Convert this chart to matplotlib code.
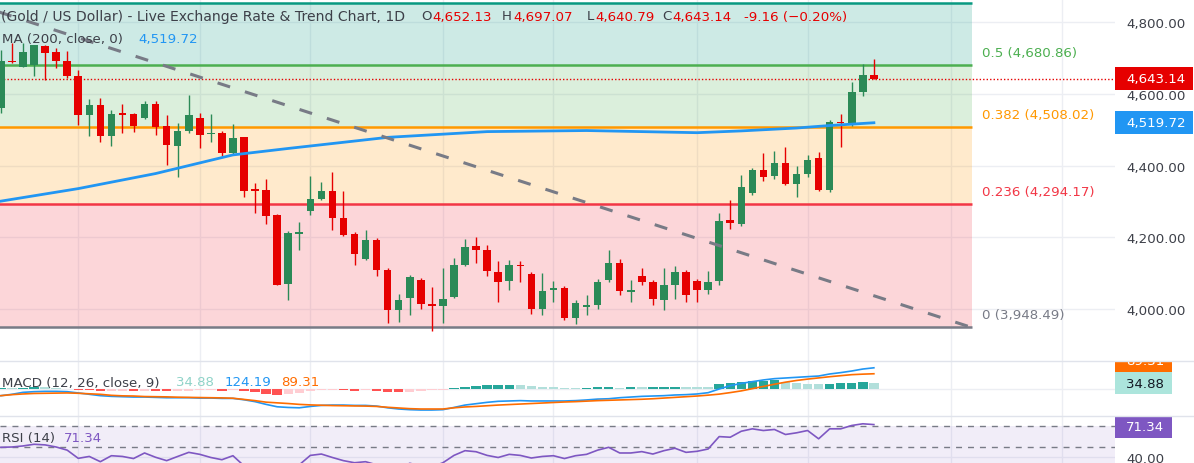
import numpy as np
import matplotlib
matplotlib.use("Agg")
import matplotlib.pyplot as plt
from matplotlib.patches import Rectangle
from matplotlib.lines import Line2D
from matplotlib.ticker import FuncFormatter

W, H = 1194, 464

# daily candles (XAU/USD), oldest -> newest
opens = [4560, 4693, 4676, 4680, 4735, 4717, 4693, 4651, 4541, 4568,
         4483, 4546, 4543, 4532, 4571, 4512, 4455, 4497, 4534, 4487,
         4490, 4434, 4479, 4333, 4333, 4262, 4070, 4208, 4273, 4308,
         4330, 4255, 4209, 4140, 4193, 4110, 3998, 4030, 4082, 4012,
         4008, 4033, 4123, 4175, 4165, 4103, 4077, 4124, 4098, 4000,
         4053, 4058, 3975, 4005, 4010, 4080, 4128, 4048, 4091, 4075,
         4026, 4066, 4103, 4078, 4052, 4077, 4249, 4238, 4325, 4389,
         4371, 4408, 4348, 4378, 4420, 4331, 4523, 4515, 4605, 4652.13]
highs = [4723, 4742, 4742, 4738, 4737, 4728, 4721, 4667, 4585, 4590,
         4554, 4571, 4547, 4581, 4581, 4540, 4518, 4596, 4546, 4543,
         4497, 4515, 4481, 4353, 4364, 4264, 4219, 4244, 4370, 4355,
         4383, 4330, 4215, 4221, 4199, 4114, 4041, 4094, 4086, 4061,
         4114, 4143, 4194, 4201, 4178, 4134, 4137, 4134, 4103, 4101,
         4079, 4064, 4024, 4039, 4084, 4165, 4140, 4080, 4114, 4081,
         4114, 4120, 4109, 4084, 4106, 4268, 4305, 4373, 4394, 4436,
         4442, 4451, 4399, 4429, 4437, 4527, 4543, 4633, 4683, 4697.07]
lows = [4546, 4686, 4674, 4651, 4639, 4672, 4644, 4513, 4483, 4467,
        4455, 4492, 4494, 4530, 4485, 4401, 4369, 4492, 4450, 4465,
        4428, 4429, 4313, 4269, 4238, 4066, 4024, 4166, 4261, 4305,
        4220, 4204, 4122, 4136, 4091, 3960, 3963, 3982, 4000, 3940,
        3960, 4030, 4121, 4129, 4092, 4021, 4054, 4075, 3986, 3984,
        4019, 3968, 3958, 3982, 4000, 4075, 4039, 4021, 4066, 4011,
        3996, 4028, 4021, 4019, 4042, 4066, 4224, 4231, 4317, 4358,
        4364, 4346, 4313, 4367, 4330, 4327, 4451, 4511, 4595, 4640.79]
closes = [4693, 4688, 4717, 4737, 4715, 4691, 4651, 4541, 4568, 4483,
          4543, 4542, 4511, 4571, 4507, 4457, 4497, 4540, 4485, 4490,
          4434, 4476, 4329, 4330, 4260, 4068, 4212, 4216, 4308, 4330,
          4255, 4207, 4154, 4192, 4110, 3998, 4025, 4089, 4014, 4008,
          4028, 4122, 4173, 4164, 4105, 4075, 4122, 4119, 4000, 4050,
          4058, 3975, 4017, 4010, 4075, 4128, 4049, 4050, 4075, 4028,
          4066, 4103, 4040, 4054, 4075, 4246, 4241, 4341, 4389, 4369,
          4408, 4348, 4378, 4417, 4331, 4523, 4518, 4605, 4653, 4643.14]

# MA(200) read at a few candles
ma_k = [0, 7, 14, 21, 26, 35, 44, 53, 58, 63, 67, 72, 75, 79]
ma_v = [4301, 4336, 4378, 4430, 4448, 4479, 4495, 4498, 4495, 4492, 4497, 4505, 4512, 4519.72]

# fib retracement levels and the trend line drawn on the chart
fib_ratios = ["0", "0.236", "0.382", "0.5", "0.618"]
fib_levels = [3948.49, 4294.17, 4508.02, 4680.86, 4853.66]
trend_k = [-1.0, 87.86]
trend_p = [4837, 3948.49]

macd = [-39, -31, -19.5, -15.6, -13.7, -13.7, -15.6, -23, -31, -39,
        -43, -45, -47, -47, -49, -51, -51, -51, -53, -53,
        -55, -55, -63, -74, -90, -104, -108, -110, -102, -96,
        -94, -94, -96, -96, -100, -110, -117, -121, -123, -123,
        -121, -108, -94, -86, -78, -72, -70, -68, -70, -70,
        -70, -70, -68, -64, -59, -57, -51, -47, -43, -41,
        -39, -35, -33, -29, -21.5, 0, 19.5, 33, 43, 53,
        60.6, 64.5, 68.4, 72.3, 76, 88, 96, 105.5, 117, 124.19]
signal = [-39, -33, -29, -26, -25, -24, -23, -25, -28, -31,
          -37, -40, -41, -44, -45, -46, -48, -49, -50, -51,
          -52, -54, -61, -68, -77, -81, -85, -90, -93, -95,
          -97, -98, -99, -100, -102, -107, -111, -115, -117, -117,
          -117, -110, -105, -102, -98, -94, -91, -88, -85, -82,
          -79, -76, -74, -71, -68, -66, -64, -62, -60, -57,
          -53, -49, -45, -41, -36, -30, -21, -11, 2, 15,
          28, 40, 50, 58, 65, 72, 78, 84, 87, 89.31]
hist = [6, 4, 8, 10, 9, 5, 1, -3, -8, -12,
        -10, -9, -12, -10, -12, -14, -11, -9, -7, -6,
        -9, -8, -14, -20, -28, -36, -30, -22, -14, -8,
        -4, -6, -10, -8, -12, -18, -20, -16, -12, -8,
        -4, 6, 14, 20, 22, 24, 25, 22, 18, 14,
        10, 6, 4, 6, 9, 10, 8, 11, 9, 10,
        12, 14, 12, 11, 10, 28, 38, 43, 45, 48,
        50, 42, 35, 30, 27, 31, 34, 37, 39, 34.88]
rsi = [49.7, 50, 51, 52.6, 52, 50, 47, 39.2, 41, 36,
       41.7, 41, 39, 44.3, 40.2, 37, 41, 44.9, 43, 40,
       37.9, 41.7, 32, 31, 28, 21, 31, 33, 42, 43.3,
       40, 37, 35, 36, 33, 27, 29, 34.5, 32, 31,
       35, 42, 46.5, 45.5, 42, 40, 43, 42, 39.5, 41,
       41.7, 39, 41.7, 43, 47, 49.7, 44.3, 44.3, 45.6, 43.3,
       46.5, 48.8, 44.9, 45.9, 48.1, 59.9, 59.3, 65, 67.3, 65.7,
       66.7, 61.9, 63.5, 65.7, 57.8, 67.3, 67.3, 70.5, 72.1, 71.34]

grid_k = [7, 18, 28, 40, 50, 63, 73, 86, 96]
price_ticks = [4000, 4200, 4400, 4600, 4800]

GREEN = "#2b8a57"
RED = "#e60000"
TXT = "#3d4049"
GRID = "#eceef3"
FS = 9.6

plt.rcParams["font.family"] = "DejaVu Sans"
fig = plt.figure(figsize=(W / 100, H / 100), dpi=100)


def fbox(x0, y0, x1, y1):
    # pixel box, top-left origin -> figure fraction
    return [x0 / W, 1 - y1 / H, (x1 - x0) / W, (y1 - y0) / H]


PR = 1115
XL = (-0.081, 100.82)
ax = fig.add_axes(fbox(0, 0, PR, 362))
ax_m = fig.add_axes(fbox(0, 362, PR, 417))
ax_r = fig.add_axes(fbox(0, 417, PR, 464))

for a in (ax, ax_m, ax_r):
    a.set_xlim(*XL)
    a.set_xticks(grid_k)
    a.tick_params(axis="x", length=0, labelbottom=False)
    a.yaxis.tick_right()
    a.tick_params(axis="y", length=0, pad=8, labelsize=FS, labelcolor=TXT)
    a.grid(True, color=GRID, lw=1)
    a.set_axisbelow(True)
    for s in a.spines.values():
        s.set_visible(False)

# ---- main pane ----
ax.set_ylim(3855, 4865)
ax.set_yticks(price_ticks)
ax.yaxis.set_major_formatter(FuncFormatter(lambda v, _: f"{v:,.2f}"))

fib_cols = ["#787b86", "#f23645", "#ff9800", "#4caf50", "#089981"]
fx = [-10, trend_k[1]]
for i in range(len(fib_levels) - 1):
    ax.fill_between(fx, fib_levels[i], fib_levels[i + 1], color=fib_cols[i + 1], alpha=0.2, lw=0, zorder=1)
for r, lv, c in zip(fib_ratios, fib_levels, fib_cols):
    ax.hlines(lv, fx[0], fx[1], color=c, lw=1.8, zorder=2)
# top level label sits above the visible area, so only the lower four are written
for r, lv, c in zip(fib_ratios[:4], fib_levels[:4], fib_cols[:4]):
    ax.annotate(f"{r} ({lv:,.2f})", xy=(fx[1], lv), xytext=(7.7, 9), textcoords="offset points",
                ha="left", va="center", color=c, fontsize=FS)

x = np.arange(len(closes))
O, Hh, L, C = map(np.array, (opens, highs, lows, closes))
cols = np.where(C >= O, GREEN, RED)
ax.vlines(x, L, Hh, colors=cols, lw=1, zorder=3)
ax.bar(x, np.maximum(np.abs(C - O), 5), bottom=np.minimum(O, C), width=0.68, color=cols, lw=0, zorder=4)

ax.plot(ma_k, ma_v, color="#2196f3", lw=2, zorder=5)
ax.plot(trend_k, trend_p, color="#787b86", lw=2.2, ls=(0, (4.3, 5.1)), zorder=6)
ax.axhline(closes[-1], color=RED, lw=1, ls=(0, (1, 1.5)), zorder=2)

# price scale tags
ax_s = fig.add_axes(fbox(PR, 0, W, 362))
ax_s.set_xlim(0, 79)
ax_s.set_ylim(3855, 4865)
ax_s.axis("off")
upx = 1010 / 362
for val, bg in ((closes[-1], RED), (ma_v[-1], "#2196f3")):
    ax_s.add_patch(Rectangle((0, val - 11.5 * upx), 78, 23 * upx, color=bg, lw=0))
    ax_s.text(11, val, f"{val:,.2f}", color="white", fontsize=FS, va="center", ha="left")

# header
def ftxt(xp, yp, s, c=TXT, fs=FS):
    return fig.text(xp / W, 1 - yp / H, s, color=c, fontsize=fs, va="center", ha="left")

ftxt(1, 17, "(Gold / US Dollar) - Live Exchange Rate & Trend Chart, 1D", fs=10.1)
ftxt(421, 17, "O")
ftxt(432, 17, "4,652.13", RED)
ftxt(502, 17, "H")
ftxt(513, 17, "4,697.07", RED)
ftxt(587, 17, "L")
ftxt(595, 17, "4,640.79", RED)
ftxt(662, 17, "C")
ftxt(672, 17, "4,643.14", RED)
ftxt(744, 17, "-9.16 (\u22120.20%)", RED)
ftxt(2, 39, "MA (200, close, 0)")
ftxt(138, 39, "4,519.72", "#2196f3")

# ---- MACD pane ----
ax_m.set_ylim(-158, 164)
ax_m.set_yticks([0])
ax_m.tick_params(axis="y", labelright=False)
hc = []
for i, h in enumerate(hist):
    p = hist[i - 1] if i else 0
    if h >= 0:
        hc.append("#26a69a" if h > p else "#b2dfdb")
    else:
        hc.append("#ff5252" if h < p else "#ffcdd2")
ax_m.bar(x, hist, width=0.85, color=hc, lw=0, zorder=2)
ax_m.plot(x, macd, color="#2196f3", lw=1.2, zorder=3)
ax_m.plot(x, signal, color="#ff6d00", lw=1.2, zorder=3)
ftxt(2, 383, "MACD (12, 26, close, 9)")
ftxt(176, 383, "34.88", "#8fd3c8")
ftxt(225, 383, "124.19", "#2196f3")
ftxt(281, 383, "89.31", "#ff6d00")

ax_ms = fig.add_axes(fbox(PR, 362, W, 417))
ax_ms.set_xlim(0, 79)
ax_ms.set_ylim(-158, 164)
ax_ms.axis("off")
mpx = 322 / 55
ax_ms.add_patch(Rectangle((0, 164 - 11 * mpx), 57, 22 * mpx, color="#ff6d00", lw=0))
t = ax_ms.text(11, 164, "89.31", color="white", fontsize=FS, va="center", ha="left")
t.set_clip_box(ax_ms.bbox)
t.set_clip_on(True)
ax_ms.add_patch(Rectangle((0, hist[-1] - 11 * mpx), 57, 22 * mpx, color="#ace5dc", lw=0))
ax_ms.text(11, hist[-1], f"{hist[-1]:.2f}", color="#131722", fontsize=FS, va="center", ha="left")

# ---- RSI pane ----
ax_r.set_ylim(34.76, 79.52)
ax_r.set_yticks([40])
ax_r.yaxis.set_major_formatter(FuncFormatter(lambda v, _: f"{v:.2f}"))
ax_r.axhspan(30, 70, color="#7e57c2", alpha=0.1, lw=0, zorder=1)
for lv in (70, 50):
    ax_r.axhline(lv, color="#787b86", lw=1, ls=(0, (4.3, 4.3)), zorder=2)
ax_r.plot(x, rsi, color="#7e57c2", lw=1.2, zorder=3)
ftxt(2, 439, "RSI (14)")
ftxt(64, 439, "71.34", "#7e57c2")
ax_rs = fig.add_axes(fbox(PR, 417, W, 464))
ax_rs.set_xlim(0, 79)
ax_rs.set_ylim(34.76, 79.52)
ax_rs.axis("off")
rpx = 44.76 / 47
ax_rs.add_patch(Rectangle((0, 70 - 12 * rpx), 57, 22 * rpx, color="#7e57c2", lw=0))
ax_rs.text(11, 70 - 1 * rpx, f"{rsi[-1]:.2f}", color="white", fontsize=FS, va="center", ha="left")

# pane separators
for yy in (362, 417):
    fig.add_artist(Line2D([0, 1], [1 - yy / H] * 2, transform=fig.transFigure, color="#e0e3eb", lw=1))

fig.savefig("out.png", dpi=100)
